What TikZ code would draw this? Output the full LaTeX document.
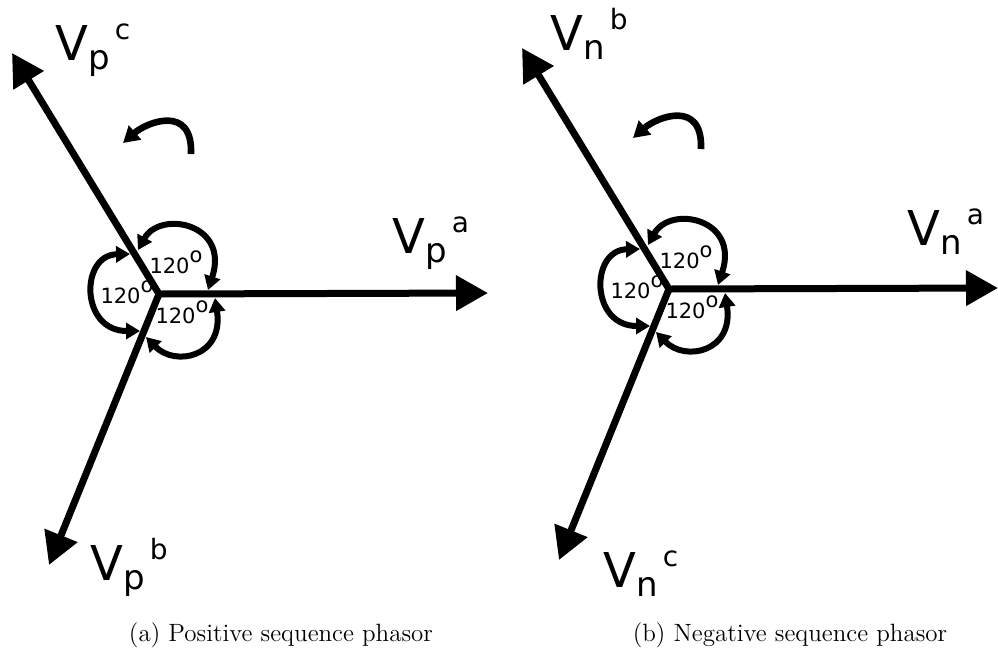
\documentclass[tikz,border=0pt]{standalone}
\usepackage{fontspec}
\newfontfamily\dejavu{DejaVu Sans}
\usetikzlibrary{arrows.meta}
\tikzset{phasor/.style={line width=3.5pt,-{Triangle[length=16pt,width=17pt]}},
  twophasor/.style={line width=3.5pt,{Triangle[length=16pt,width=17pt]}-{Triangle[length=16pt,width=17pt]}},
  anglemark/.style={line width=3pt,{Triangle[length=7pt,width=8pt]}-{Triangle[length=7pt,width=8pt]}},
  turn/.style={line width=3.3pt,-{Triangle[length=8pt,width=9pt]}},
  vlabel/.style={font=\dejavu\fontsize{24}{24}\selectfont,inner sep=0pt,anchor=base west},
  deg/.style={font=\dejavu\fontsize{10.5}{11}\selectfont,inner sep=0pt,anchor=base},
  caption/.style={font=\fontsize{12.5}{15}\selectfont,inner sep=0pt,anchor=base}}
\newcommand{\vlab}[2]{V\raisebox{-4.5pt}{\fontsize{17}{17}\selectfont #1}\kern2.5pt\raisebox{10.5pt}{\fontsize{14}{14}\selectfont #2}}
\newcommand{\degtext}{120\raisebox{5.5pt}{o}}
% one star of three phasors, centre at the scope origin
\newcommand{\phasorstar}[1]{%
\coordinate (#1o) at (0,0);
\coordinate (#1a) at (329,-1);
\coordinate (#1up) at (-147,-241);
\coordinate (#1dn) at (-110,271);
\draw[phasor] (#1o) -- (#1a);
\draw[twophasor] (#1up) -- (#1o) -- (#1dn);
\draw[anglemark] (-21,-44) .. controls (1,-84) and (71,-71) .. (49,-4);
\draw[anglemark] (-29,-40) .. controls (-79,-39) and (-79,37) .. (-19,37);
\draw[anglemark] (56,4) .. controls (65,63) and (16,73) .. (-13,43);
\node[deg] (#1d1) at (17,-21) {\degtext};
\node[deg] (#1d2) at (-32,9) {\degtext};
\node[deg] (#1d3) at (23,29) {\degtext};
\draw[turn] (32,-140) .. controls (34,-190) and (-12,-172) .. (-36,-151);}

\begin{document}
\begin{tikzpicture}[x=0.5pt,y=-0.5pt]
\useasboundingbox (0,0) rectangle (998,655);
\begin{scope}[shift={(159,294)}]\phasorstar{p}\end{scope}
\node[vlabel] (vpc) at (55,60) {\vlab{p}{c}};
\node[vlabel] (vpa) at (392,253) {\vlab{p}{a}};
\node[vlabel] (vpb) at (90,580) {\vlab{p}{b}};
\begin{scope}[shift={(669,289)}]\phasorstar{n}\end{scope}
\node[vlabel] (vnb) at (550,50) {\vlab{n}{b}};
\node[vlabel] (vna) at (907,245) {\vlab{n}{a}};
\node[vlabel] (vnc) at (603,587) {\vlab{n}{c}};
\node[caption] (capa) at (281,641) {(a) Positive sequence phasor};
\node[caption] (capb) at (790,641) {(b) Negative sequence phasor};
\end{tikzpicture}
\end{document}
